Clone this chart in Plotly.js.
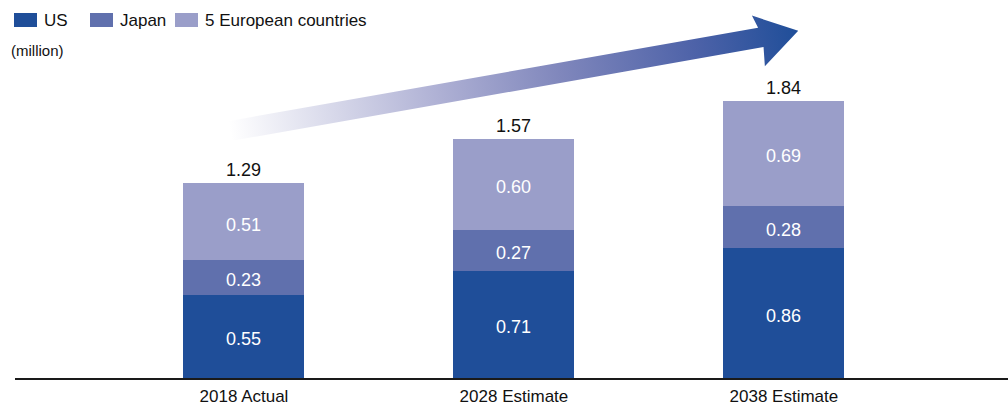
<!DOCTYPE html>
<html>
<head>
<meta charset="utf-8">
<script src="https://cdn.plot.ly/plotly-3.0.1.min.js"></script>
<style>html,body{margin:0;padding:0;background:#fff;}#chart{width:1008px;height:405px;}</style>
</head>
<body>
<div id="chart"></div>
<script>
const categories = ['2018 Actual', '2028 Estimate', '2038 Estimate'];
const usValues = [0.55, 0.71, 0.86];
const japanValues = [0.23, 0.27, 0.28];
const europeValues = [0.51, 0.60, 0.69];
const totalLabels = ['1.29', '1.57', '1.84'];
const seriesNames = ['US', 'Japan', '5 European countries'];

const colors = ['#1f4e99', '#6070ad', '#9a9ec9'];
const FONT = 'Liberation Sans, Arial, sans-serif';

// plot-area geometry (page pixels)
const M = {l: 15, r: 0, t: 0, b: 27};
const W = 1008, H = 405;
const PW = W - M.l - M.r, PH = H - M.t - M.b;
const px2x = p => (p - M.l) / PW;
const py2y = p => (H - M.b - p) / PH;

const seriesValues = [usValues, japanValues, europeValues];

const data = seriesValues.map((vals, s) => ({
  type: 'bar', name: seriesNames[s], x: categories, y: vals,
  marker: {color: colors[s], line: {width: 0}},
  width: 0.448,
  hoverinfo: 'skip', showlegend: false
}));

const annotations = [];
// segment value labels, centred in each stacked segment
categories.forEach((c, i) => {
  let base = 0;
  seriesValues.forEach(vals => {
    annotations.push({
      x: c, y: base + vals[i] / 2, text: vals[i].toFixed(2), showarrow: false,
      yanchor: 'middle', yshift: -3,
      font: {size: 18, color: '#ffffff', family: FONT}
    });
    base += vals[i];
  });
});

const stackTops = categories.map((c, i) => usValues[i] + japanValues[i] + europeValues[i]);
categories.forEach((c, i) => annotations.push({
  x: c, y: stackTops[i], text: totalLabels[i], showarrow: false,
  yanchor: 'bottom', yshift: 1,
  font: {size: 18, color: '#111111', family: FONT}
}));
annotations.push({
  xref: 'paper', yref: 'paper', x: px2x(9), y: py2y(51), xanchor: 'left', yanchor: 'middle',
  text: '(million)', showarrow: false,
  font: {size: 15, color: '#111111', family: FONT}
});

// custom legend (swatch + label), built from the series names and colours
const legendSwatchX = [14, 90, 175];
const shapes = [];
seriesNames.forEach((n, i) => {
  shapes.push({
    type: 'rect', xref: 'paper', yref: 'paper',
    x0: px2x(legendSwatchX[i]), x1: px2x(legendSwatchX[i] + 23),
    y0: py2y(27), y1: py2y(13),
    fillcolor: colors[i], line: {width: 0}
  });
  annotations.push({
    xref: 'paper', yref: 'paper', x: px2x(legendSwatchX[i] + 28), y: py2y(20),
    xanchor: 'left', yanchor: 'middle', text: n, showarrow: false,
    font: {size: 17, color: '#111111', family: FONT}
  });
});

// Decorative gradient arrow (page pixel coordinates in viewBox)
const arrowSvg =
  '<svg xmlns="http://www.w3.org/2000/svg" width="' + PW + '" height="' + PH + '" viewBox="' + M.l + ' ' + M.t + ' ' + PW + ' ' + PH + '" preserveAspectRatio="none">' +
  '<defs><linearGradient id="g" gradientUnits="userSpaceOnUse" x1="0" y1="0" x2="577" y2="0">' +
  '<stop offset="0" stop-color="#ffffff"/>' +
  '<stop offset="0.37" stop-color="#aeb0d4"/>' +
  '<stop offset="0.58" stop-color="#8087bc"/>' +
  '<stop offset="0.82" stop-color="#4d62a8"/>' +
  '<stop offset="1" stop-color="#1f4e99"/>' +
  '</linearGradient></defs>' +
  '<g transform="translate(230,131) rotate(-10)">' +
  '<polygon fill="url(#g)" points="0,-10 538,-10 534,-23 577,0 538,29 540,10 0,10"/>' +
  '</g></svg>';

const layout = {
  width: W, height: H,
  margin: {l: M.l, r: M.r, t: M.t, b: M.b, autoexpand: false},
  paper_bgcolor: '#ffffff', plot_bgcolor: '#ffffff',
  barmode: 'stack',
  font: {family: FONT, color: '#111111'},
  showlegend: false,
  xaxis: {
    range: [-0.848, 2.83], showgrid: false, zeroline: false,
    showline: true, linecolor: '#1a1a1a', linewidth: 2,
    ticks: '', tickfont: {size: 17, color: '#111111', family: FONT},
    ticklabelstandoff: 2, fixedrange: true, automargin: false
  },
  yaxis: {
    range: [0, PH / 151.2], visible: false, showgrid: false, zeroline: false, fixedrange: true
  },
  annotations: annotations,
  shapes: shapes,
  images: [{
    source: 'data:image/svg+xml;charset=utf-8,' + encodeURIComponent(arrowSvg),
    xref: 'paper', yref: 'paper', x: 0, y: 1, sizex: 1, sizey: 1,
    xanchor: 'left', yanchor: 'top', sizing: 'stretch', layer: 'below'
  }]
};

Plotly.newPlot('chart', data, layout, {staticPlot: true, displayModeBar: false});
</script>
</body>
</html>
